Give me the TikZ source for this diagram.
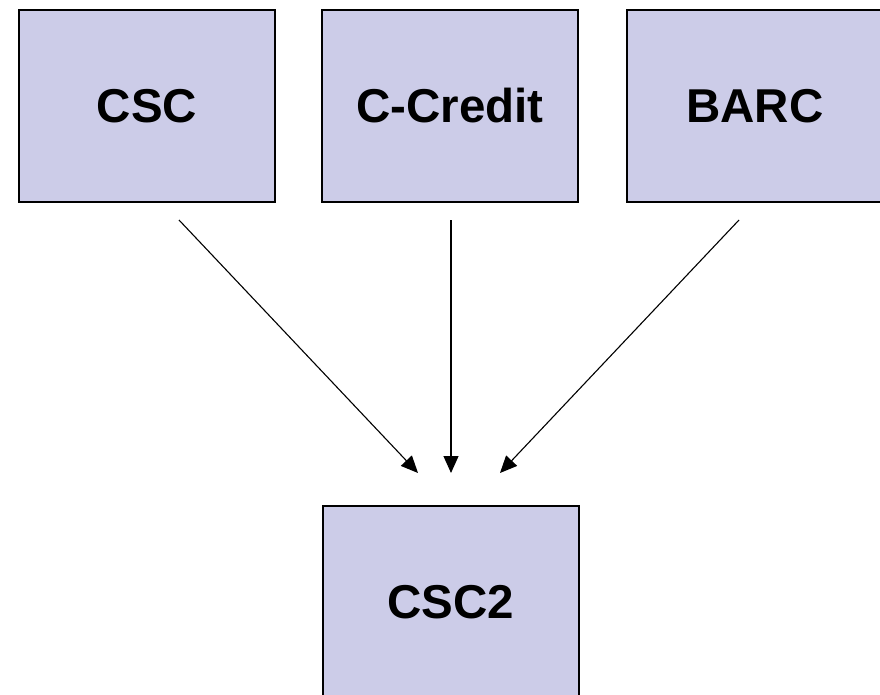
\documentclass[tikz,border=0pt]{standalone}
\usepackage{fontspec}
\setmainfont{Liberation Sans}
\usetikzlibrary{arrows.meta}
\definecolor{boxfill}{RGB}{204,204,232}
\begin{document}
\begin{tikzpicture}[x=1pt,y=-1pt,
  box/.style={draw=black, line width=2pt, fill=boxfill, minimum width=256pt, minimum height=192pt, inner sep=0pt, font=\fontsize{47.5}{54}\selectfont\bfseries},
  conn/.style={line width=1.1pt, -{Triangle[length=17pt,width=15pt]}}]
\useasboundingbox (0,0) rectangle (880,695);
\node[box] (csc) at (147,106) {CSC};
\node[box] (ccredit) at (450,106) {C-Credit};
\node[box] (barc) at (755,106) {BARC};
\node[box] (csc2) at (451,602) {CSC2};
\coordinate (s1) at (179,220);
\coordinate (s2) at (451,220);
\coordinate (s3) at (739,220);
\coordinate (e1) at (418,473);
\coordinate (e2) at (451,473);
\coordinate (e3) at (500,473);
\draw[conn] (s1) -- (e1);
\draw[conn] (s2) -- (e2);
\draw[conn] (s3) -- (e3);
\end{tikzpicture}
\end{document}
